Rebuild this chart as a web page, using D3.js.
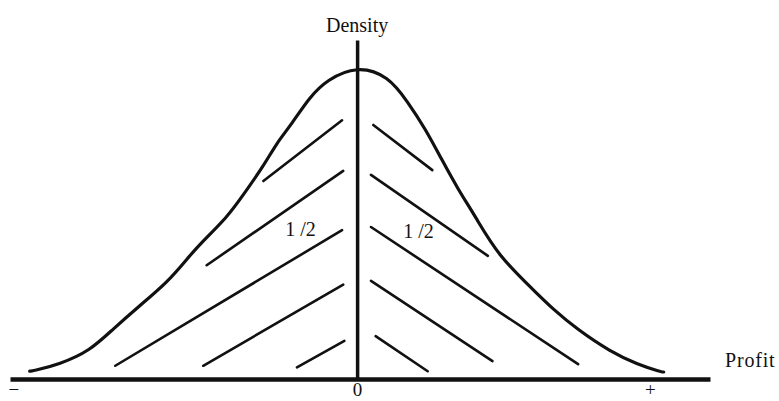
<!DOCTYPE html>
<html>
<head>
<meta charset="utf-8">
<script src="https://cdn.jsdelivr.net/npm/d3@7"></script>
<style>
  body { margin: 0; background: #fff; }
  text { font-family: "Liberation Serif", "DejaVu Serif", serif; fill: #111; }
</style>
</head>
<body>
<div id="chart-area"></div>
<script>
// density curve (profit in sigma units, density)
const profitLeft = [-2.83, -2.81, -2.57, -2.31, -2.11, -1.88, -1.64, -1.47, -1.36, -1.12, -0.99, -0.81, -0.69, -0.58, -0.41, -0.26, 0]
const densityLeft = [0.010, 0.010, 0.019, 0.036, 0.064, 0.094, 0.124, 0.154, 0.173, 0.208, 0.235, 0.273, 0.304, 0.324, 0.362, 0.384, 0.402]
const profitRight = [0.27, 0.44, 0.59, 0.73, 0.87, 1.02, 1.22, 1.54, 1.69, 1.90, 2.19, 2.42, 2.63, 2.65]
const densityRight = [0.389, 0.355, 0.321, 0.282, 0.244, 0.209, 0.158, 0.112, 0.090, 0.064, 0.035, 0.019, 0.009, 0.009]

// hatch strokes: [x1, y1, x2, y2] in the same units
const hatchLeft = [
  [-0.81, 0.254, -0.13, 0.332],
  [-1.30, 0.146, -0.12, 0.267],
  [-2.09, 0.017, -0.13, 0.191],
  [-1.33, 0.017, -0.12, 0.121],
  [-0.52, 0.015, -0.11, 0.049]
]
const hatchRight = [
  [0.14, 0.326, 0.65, 0.268],
  [0.12, 0.262, 1.13, 0.158],
  [0.12, 0.195, 1.91, 0.019],
  [0.12, 0.126, 1.17, 0.023],
  [0.16, 0.055, 0.61, 0.010]
]

const tickValues = [-2.97, 0, 2.53]
const tickLabels = ["\u2212", "0", "+"]
const halfLabels = [{x: -0.49, y: 0.183, text: "1 /2"}, {x: 0.53, y: 0.181, text: "1 /2"}]

const W = 779
const H = 401

const svg = d3.select("#chart-area").append("svg")
  .attr("width", W)
  .attr("height", H)

const x = d3.scaleLinear()
  .domain([-3, 3.05])
  .range([10, 710])

const y = d3.scaleLinear()
  .domain([0, 0.435])
  .range([379, 40])

// vertical axis (density)
const yAxis = svg.append("g")
  .attr("transform", `translate(${x(0)}, 0)`)
  .call(d3.axisLeft(y).tickValues([]).tickSizeOuter(0))
yAxis.select(".domain")
  .attr("stroke", "#111")
  .attr("stroke-width", 3.5)

// horizontal axis (profit)
const xAxis = svg.append("g")
  .attr("transform", `translate(0, ${y(0)})`)
  .call(d3.axisBottom(x)
    .tickValues(tickValues)
    .tickFormat((d, i) => tickLabels[i])
    .tickSize(0)
    .tickPadding(4))
xAxis.select(".domain")
  .attr("stroke", "#111")
  .attr("stroke-width", 4.5)
xAxis.selectAll("text")
  .attr("font-family", "Liberation Serif, serif")
  .attr("font-size", "19px")
  .attr("fill", "#111")

// hatching
const hatch = hatchLeft.concat(hatchRight)
svg.append("g").selectAll("line")
  .data(hatch)
  .enter().append("line")
  .attr("x1", d => x(d[0]))
  .attr("y1", d => y(d[1]))
  .attr("x2", d => x(d[2]))
  .attr("y2", d => y(d[3]))
  .attr("stroke", "#111")
  .attr("stroke-width", 2.6)
  .attr("stroke-linecap", "round")

// density curve
const pts = profitLeft.map((p, i) => [p, densityLeft[i]])
  .concat(profitRight.map((p, i) => [p, densityRight[i]]))

const line = d3.line()
  .x(d => x(d[0]))
  .y(d => y(d[1]))
  .curve(d3.curveBasis)

svg.append("path")
  .datum(pts)
  .attr("fill", "none")
  .attr("stroke", "#111")
  .attr("stroke-width", 3.2)
  .attr("stroke-linecap", "round")
  .attr("d", line)

// labels
svg.append("text")
  .attr("x", x(0))
  .attr("y", 32)
  .attr("text-anchor", "middle")
  .attr("font-size", "20px")
  .text("Density")

svg.append("text")
  .attr("x", 725)
  .attr("y", 367)
  .attr("font-size", "20px")
  .attr("letter-spacing", "0.8px")
  .text("Profit")

svg.append("g").selectAll("text")
  .data(halfLabels)
  .enter().append("text")
  .attr("x", d => x(d.x))
  .attr("y", d => y(d.y))
  .attr("text-anchor", "middle")
  .attr("font-size", "20px")
  .text(d => d.text)
</script>
</body>
</html>
